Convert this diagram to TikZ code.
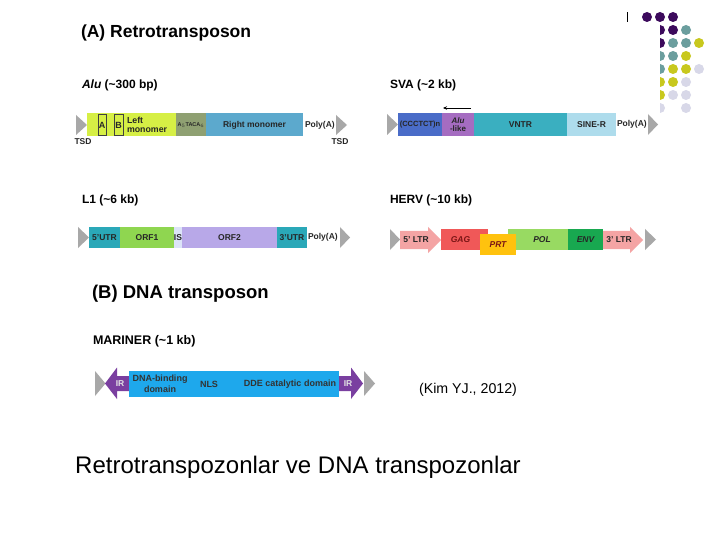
\documentclass[tikz,border=0pt]{standalone}
\usepackage{fontspec}
\setmainfont{Liberation Sans}
\usetikzlibrary{arrows.meta}
\definecolor{alugreen}{HTML}{D6EF45}
\definecolor{alugray}{HTML}{8FA072}
\definecolor{alublue}{HTML}{5CA9CD}
\definecolor{svablue}{HTML}{4A6CC8}
\definecolor{svapurple}{HTML}{A56CC1}
\definecolor{svateal}{HTML}{3AAFC0}
\definecolor{svalight}{HTML}{AEDCEC}
\definecolor{lteal}{HTML}{2AA8B8}
\definecolor{lgreen}{HTML}{8FD650}
\definecolor{lis}{HTML}{DCE4F8}
\definecolor{llav}{HTML}{B8A8E8}
\definecolor{ltrpink}{HTML}{F4A4A4}
\definecolor{gagred}{HTML}{F05858}
\definecolor{prtyellow}{HTML}{FFC20E}
\definecolor{polgreen}{HTML}{98DA62}
\definecolor{envgreen}{HTML}{18A850}
\definecolor{marblue}{HTML}{1EA8EC}
\definecolor{irpurple}{HTML}{7A3FA0}
\definecolor{trigray}{HTML}{A8A8A8}
\definecolor{dpurple}{HTML}{3C0A5C}
\definecolor{dteal}{HTML}{6B9E9E}
\definecolor{dyellow}{HTML}{C8C81E}
\definecolor{dlav}{HTML}{D8D8E8}
\definecolor{darkred}{HTML}{7A1515}
\tikzset{
  seg/.style={anchor=west, inner sep=0pt, outer sep=0pt, align=center,
    font=\fontsize{8.5}{9}\selectfont\bfseries, text=black!85},
  lbl/.style={anchor=west, inner sep=0pt, outer sep=0pt,
    font=\fontsize{8.5}{9}\selectfont\bfseries, text=black!85},
  sub/.style={anchor=west, inner sep=0pt, outer sep=0pt,
    font=\fontsize{12}{14}\selectfont\bfseries},
  title/.style={anchor=west, inner sep=0pt, outer sep=0pt, font=\bfseries},
  dot/.style={circle, inner sep=0pt, minimum size=10pt}
}
\begin{document}
\begin{tikzpicture}[x=1pt,y=-1pt]
\useasboundingbox (0,0) rectangle (720,540);
\fill[white] (0,0) rectangle (720,540);

% ---------- corner dots ----------
\draw[black, line width=0.8pt] (627,12.5) -- (627,22.5);
\node[dot, fill=dpurple] (d11) at (647,17) {};
\node[dot, fill=dpurple] (d12) at (660,17) {};
\node[dot, fill=dpurple] (d13) at (673,17) {};
\begin{scope}
\clip (660,23) rectangle (720,120);
\node[dot, fill=dpurple] (d22) at (660,30) {};
\node[dot, fill=dpurple] (d32) at (660,43) {};
\node[dot, fill=dteal] (d42) at (660,56) {};
\node[dot, fill=dteal] (d52) at (660,69) {};
\node[dot, fill=dyellow] (d62) at (660,82) {};
\node[dot, fill=dyellow] (d72) at (660,95) {};
\node[dot, fill=dlav] (d82) at (660,108) {};
\end{scope}
\node[dot, fill=dpurple] (d23) at (673,30) {};
\node[dot, fill=dteal] (d24) at (686,30) {};
\node[dot, fill=dteal] (d33) at (673,43) {};
\node[dot, fill=dteal] (d34) at (686,43) {};
\node[dot, fill=dyellow] (d35) at (699,43) {};
\node[dot, fill=dteal] (d43) at (673,56) {};
\node[dot, fill=dyellow] (d44) at (686,56) {};
\node[dot, fill=dyellow] (d53) at (673,69) {};
\node[dot, fill=dyellow] (d54) at (686,69) {};
\node[dot, fill=dlav] (d55) at (699,69) {};
\node[dot, fill=dyellow] (d63) at (673,82) {};
\node[dot, fill=dlav] (d64) at (686,82) {};
\node[dot, fill=dlav] (d73) at (673,95) {};
\node[dot, fill=dlav] (d74) at (686,95) {};
\node[dot, fill=dlav] (d84) at (686,108) {};

% ---------- titles ----------
\node[title, font=\fontsize{17.5}{20}\selectfont\bfseries] (tA) at (81,33) {(A) Retrotransposon};
\node[title, font=\fontsize{18.5}{21}\selectfont\bfseries] (tB) at (92,294) {(B) DNA transposon};
\node[sub] (salu) at (82,85) {\textit{Alu} (\textasciitilde300 bp)};
\node[sub] (ssva) at (390,85) {SVA (\textasciitilde2 kb)};
\node[sub] (sl1) at (82,200) {L1 (\textasciitilde6 kb)};
\node[sub] (sherv) at (390,200) {HERV (\textasciitilde10 kb)};
\node[sub, font=\fontsize{12.5}{14}\selectfont\bfseries] (smar) at (93,341) {MARINER (\textasciitilde1 kb)};

% ---------- Alu ----------
\fill[trigray] (76,115) -- (87,125) -- (76,135) -- cycle;
\node[seg, fill=alugreen, minimum width=89pt, minimum height=23pt] (alu1) at (87,125) {};
\node[seg, fill=alugray, minimum width=30pt, minimum height=23pt,
      font=\fontsize{5.5}{6}\selectfont\bfseries] (alu2) at (176,125) {A$_5$TACA$_6$};
\node[seg, fill=alublue, minimum width=97pt, minimum height=23pt] (alu3) at (206,125) {Right monomer};
\node[seg, draw=black!75, line width=0.6pt, minimum width=8pt, minimum height=21pt,
      font=\fontsize{9}{9}\selectfont\bfseries] (aluA) at (98,125) {A};
\node[seg, draw=black!75, line width=0.6pt, minimum width=9pt, minimum height=21pt,
      font=\fontsize{9}{9}\selectfont\bfseries] (aluB) at (114,125) {B};
\node[lbl, align=left, font=\fontsize{8.8}{9.5}\selectfont\bfseries] (alulm) at (127,125) {Left\\monomer};
\node[lbl] (alupa) at (305,125) {Poly(A)};
\fill[trigray] (336,115) -- (347,125) -- (336,135) -- cycle;
\node[lbl, anchor=center] (tsd1) at (83,142) {TSD};
\node[lbl, anchor=center] (tsd2) at (340,142) {TSD};

% ---------- SVA ----------
\fill[trigray] (387,114) -- (398,124.5) -- (387,135) -- cycle;
\node[seg, fill=svablue, minimum width=44pt, minimum height=23pt,
      font=\fontsize{7.5}{8}\selectfont\bfseries] (sva1) at (398,124.5) {(CCCTCT)n};
\node[seg, fill=svapurple, minimum width=32pt, minimum height=23pt,
      font=\fontsize{8}{8.5}\selectfont\bfseries] (sva2) at (442,124.5) {\textit{Alu}\\-like};
\node[seg, fill=svateal, minimum width=93pt, minimum height=23pt] (sva3) at (474,124.5) {VNTR};
\node[seg, fill=svalight, minimum width=49pt, minimum height=23pt] (sva4) at (567,124.5) {SINE-R};
\node[lbl] (svapa) at (617,124.5) {Poly(A)};
\fill[trigray] (648,114) -- (658,124.5) -- (648,135) -- cycle;
\coordinate (svaarrS) at (471,108);
\coordinate (svaarrE) at (443,108);
\draw[line width=0.9pt, -{Stealth[length=4pt,width=3.5pt]}] (svaarrS) -- (svaarrE);

% ---------- L1 ----------
\fill[trigray] (78,227) -- (89,237.5) -- (78,248) -- cycle;
\node[seg, fill=lteal, minimum width=31pt, minimum height=21pt] (l11) at (89,237.5) {5'UTR};
\node[seg, fill=lgreen, minimum width=54pt, minimum height=21pt] (l12) at (120,237.5) {ORF1};
\node[seg, fill=lis, minimum width=8pt, minimum height=21pt] (l13) at (174,237.5) {};
\node[lbl, anchor=center] (l1is) at (178,237.5) {IS};
\node[seg, fill=llav, minimum width=95pt, minimum height=21pt] (l14) at (182,237.5) {ORF2};
\node[seg, fill=lteal, minimum width=30pt, minimum height=21pt] (l15) at (277,237.5) {3'UTR};
\node[lbl] (l1pa) at (308,237.5) {Poly(A)};
\fill[trigray] (340,227) -- (350,237.5) -- (340,248) -- cycle;

% ---------- HERV ----------
\fill[trigray] (390,229) -- (400,239.5) -- (390,250) -- cycle;
\fill[ltrpink] (400,231) -- (428,231) -- (428,227) -- (441,240) -- (428,253) -- (428,249) -- (400,249) -- cycle;
\node[lbl, anchor=center] (ltr5) at (416,240) {5' LTR};
\node[seg, fill=gagred, minimum width=47pt, minimum height=21pt,
      font=\fontsize{8.5}{9}\selectfont\bfseries\itshape, text=darkred] (gag) at (441,239.5) {GAG\hspace*{8pt}};
\node[seg, fill=polgreen, minimum width=60pt, minimum height=21pt,
      font=\fontsize{8.5}{9}\selectfont\bfseries\itshape] (pol) at (508,239.5) {\hspace*{8pt}POL};
\node[seg, fill=envgreen, minimum width=35pt, minimum height=21pt,
      font=\fontsize{8.5}{9}\selectfont\bfseries\itshape] (env) at (568,239.5) {ENV};
\node[seg, fill=prtyellow, minimum width=36pt, minimum height=21pt,
      font=\fontsize{8.5}{9}\selectfont\bfseries\itshape, text=darkred] (prt) at (480,244.5) {PRT};
\fill[ltrpink] (603,231) -- (630,231) -- (630,227) -- (643,240) -- (630,253) -- (630,249) -- (603,249) -- cycle;
\node[lbl, anchor=center] (ltr3) at (619,240) {3' LTR};
\fill[trigray] (645,229) -- (656,239.5) -- (645,250) -- cycle;

% ---------- MARINER ----------
\fill[trigray] (95,371) -- (105.5,383.5) -- (95,396) -- cycle;
\fill[irpurple] (105,383.5) -- (117,367.5) -- (117,376) -- (129,376) -- (129,391) -- (117,391) -- (117,399) -- cycle;
\node[lbl, anchor=center, text=white!90!black] (irL) at (120,384) {IR};
\node[seg, fill=marblue, minimum width=210pt, minimum height=26pt] (mar) at (129,384) {};
\node[lbl, anchor=center, align=center, font=\fontsize{9}{11}\selectfont\bfseries, text=black!80] (mdna) at (160,384) {DNA-binding\\domain};
\node[lbl, anchor=center, font=\fontsize{9}{10}\selectfont\bfseries, text=black!80] (mnls) at (209,384) {NLS};
\node[lbl, anchor=center, font=\fontsize{9}{10}\selectfont\bfseries, text=black!80] (mdde) at (290,384) {DDE catalytic domain};
\fill[irpurple] (339,376) -- (351,376) -- (351,367.5) -- (363,383.5) -- (351,399) -- (351,391) -- (339,391) -- cycle;
\node[lbl, anchor=center, text=white!90!black] (irR) at (348,384) {IR};
\fill[trigray] (364,371) -- (375,383.5) -- (364,396) -- cycle;

% ---------- bottom texts ----------
\node[anchor=center, inner sep=0pt, font=\fontsize{14.2}{16}\selectfont] (cite) at (468,390) {(Kim YJ., 2012)};
\node[anchor=west, inner sep=0pt, font=\fontsize{24}{26}\selectfont] (caption) at (75,467) {Retrotranspozonlar ve DNA transpozonlar};
\end{tikzpicture}
\end{document}
